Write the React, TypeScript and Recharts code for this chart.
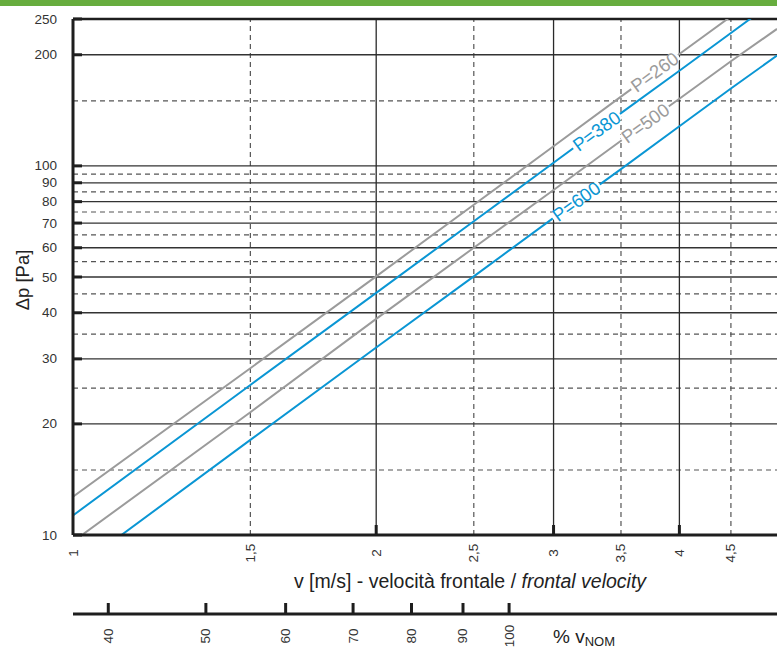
import React from 'react';
import {
  LineChart,
  Line,
  XAxis,
  YAxis,
  ReferenceLine,
  ReferenceDot,
} from 'recharts';

// velocità frontale [m/s]
const velocity = [1, 1.5, 2, 2.5, 3, 3.5, 4, 4.5, 5];

// perdita di carico [Pa] per ogni curva
const p260 = [12.7, 28.3, 50.2, 78.5, 113, 154, 201, 254, 314];
const p380 = [11.3, 25.5, 45.3, 70.8, 102, 139, 181, 229, 283];
const p500 = [9.6, 21.5, 38.5, 60, 86, 117, 152, 192, 235];
const p600 = [8.0, 18.1, 32.2, 50.2, 72.3, 98, 128, 162, 199];

const yTicks = [10, 20, 30, 40, 50, 60, 70, 80, 90, 100, 200, 250];
const yMajorGrid = [20, 30, 40, 50, 60, 70, 80, 90, 100, 200];
const yMinorGrid = [15, 25, 35, 45, 55, 65, 75, 85, 95, 150];

const xTicks = [1, 1.5, 2, 2.5, 3, 3.5, 4, 4.5];
const xMajorGrid = [2, 3, 4];
const xMinorGrid = [1.5, 2.5, 3.5, 4.5];

const nomTicks = [40, 50, 60, 70, 80, 90, 100];
const vNominal = 2.71;

const W = 777;
const H = 649;
const LEFT = 73;
const TOP = 19;
const X_AXIS_H = 79;
const NOM_AXIS_H = 35;
const X_DOMAIN = [1, 5];
const Y_DOMAIN = [10, 250];

const FONT = '"Liberation Sans", Arial, Helvetica, sans-serif';
const GRAY = '#9b9b9b';
const BLUE = '#0a96d4';

const series = [
  { key: 'p260', name: 'P=260', values: p260, color: GRAY, labelV: 3.78 },
  { key: 'p380', name: 'P=380', values: p380, color: BLUE, labelV: 3.31 },
  { key: 'p500', name: 'P=500', values: p500, color: GRAY, labelV: 3.7 },
  { key: 'p600', name: 'P=600', values: p600, color: BLUE, labelV: 3.16 },
];

const data = velocity.map((v, i) => {
  const row: Record<string, number> = { v, nom: (v / vNominal) * 100 };
  series.forEach((s) => {
    row[s.key] = s.values[i];
  });
  return row;
});

// pixel per decade, used to tilt the labels along the lines
const plotW = W - LEFT;
const plotH = H - TOP - X_AXIS_H - NOM_AXIS_H;
const pxDecX = plotW / Math.log10(X_DOMAIN[1] / X_DOMAIN[0]);
const pxDecY = plotH / Math.log10(Y_DOMAIN[1] / Y_DOMAIN[0]);

function labelPoint(values: number[], v: number) {
  let i = 0;
  while (i < velocity.length - 2 && velocity[i + 1] < v) i++;
  const lv0 = Math.log10(velocity[i]);
  const lv1 = Math.log10(velocity[i + 1]);
  const lp0 = Math.log10(values[i]);
  const lp1 = Math.log10(values[i + 1]);
  const slope = (lp1 - lp0) / (lv1 - lv0);
  const p = Math.pow(10, lp0 + slope * (Math.log10(v) - lv0));
  const angle = (Math.atan((slope * pxDecY) / pxDecX) * 180) / Math.PI;
  return { p, angle };
}

const fmt = (n: number) => String(n).replace('.', ',');

function YTick(props: any) {
  const { x, y, payload } = props;
  return (
    <g>
      <line x1={x} x2={x + 9} y1={y} y2={y} stroke="#1e1e1e" strokeWidth={3} />
      <text
        x={x - 16}
        y={y}
        textAnchor="end"
        dominantBaseline="central"
        fontSize={13.5}
        fontFamily={FONT}
        fill="#333"
      >
        {payload.value}
      </text>
    </g>
  );
}

function XTick(props: any) {
  const { x, y, payload } = props;
  const major = xMajorGrid.includes(payload.value);
  return (
    <g>
      {major && (
        <line x1={x} x2={x} y1={y - 10} y2={y} stroke="#1e1e1e" strokeWidth={3} />
      )}
      <text
        x={0}
        y={0}
        transform={`translate(${x},${y + 18}) rotate(-90)`}
        textAnchor="middle"
        dominantBaseline="central"
        fontSize={13.5}
        fontFamily={FONT}
        fill="#333"
      >
        {fmt(payload.value)}
      </text>
    </g>
  );
}

function NomTick(props: any) {
  const { x, y, payload } = props;
  return (
    <g>
      <line x1={x} x2={x} y1={y - 11} y2={y} stroke="#1e1e1e" strokeWidth={3} />
      <text
        x={0}
        y={0}
        transform={`translate(${x},${y + 22}) rotate(-90)`}
        textAnchor="middle"
        dominantBaseline="central"
        fontSize={13.5}
        fontFamily={FONT}
        fill="#333"
      >
        {payload.value}
      </text>
    </g>
  );
}

function CurveLabel({ cx, cy, text, color, angle }: any) {
  if (cx == null || cy == null) return null;
  return (
    <g transform={`translate(${cx},${cy}) rotate(${-angle})`}>
      <rect x={-29} y={-5} width={58} height={10} fill="#fff" />
      <text
        x={0}
        y={0}
        textAnchor="middle"
        dominantBaseline="central"
        fontSize={18.5}
        fontFamily={FONT}
        fill={color}
      >
        {text}
      </text>
    </g>
  );
}

export default function App() {
  return (
    <div style={{ position: 'relative', width: W, height: H, background: '#fff' }}>
      <style>{'body{margin:0}'}</style>
      <div
        style={{
          position: 'absolute',
          left: 0,
          top: 0,
          width: W,
          height: 6,
          background: '#67ad3e',
        }}
      />
      <LineChart
        width={W}
        height={H}
        data={data}
        margin={{ top: TOP, right: 0, left: 0, bottom: 0 }}
      >
        <XAxis
          xAxisId={0}
          dataKey="v"
          type="number"
          scale="log"
          domain={X_DOMAIN}
          allowDataOverflow
          ticks={xTicks}
          interval={0}
          height={X_AXIS_H}
          axisLine={{ stroke: '#1e1e1e', strokeWidth: 3 }}
          tickLine={false}
          tickSize={0}
          tickMargin={0}
          tick={<XTick />}
          label={{
            content: (p: any) => {
              const vb = p.viewBox;
              return (
                <text
                  x={vb.x + 397}
                  y={vb.y + 53}
                  textAnchor="middle"
                  fontSize={19.5}
                  fontFamily={FONT}
                  fill="#222"
                >
                  v [m/s] - velocità frontale /{' '}
                  <tspan fontStyle="italic">frontal velocity</tspan>
                </text>
              );
            },
          }}
        />
        <XAxis
          xAxisId={1}
          dataKey="nom"
          type="number"
          scale="log"
          domain={[100 / vNominal, 500 / vNominal]}
          allowDataOverflow
          ticks={nomTicks}
          interval={0}
          height={NOM_AXIS_H}
          axisLine={{ stroke: '#1e1e1e', strokeWidth: 3 }}
          tickLine={false}
          tickSize={0}
          tickMargin={0}
          tick={<NomTick />}
          label={{
            content: (p: any) => {
              const vb = p.viewBox;
              return (
                <text x={vb.x + 480} y={vb.y + 29} fontSize={19} fontFamily={FONT} fill="#222">
                  % v
                  <tspan fontSize={13} dy={3}>
                    NOM
                  </tspan>
                </text>
              );
            },
          }}
        />
        <YAxis
          type="number"
          scale="log"
          domain={Y_DOMAIN}
          allowDataOverflow
          ticks={yTicks}
          interval={0}
          width={LEFT}
          axisLine={{ stroke: '#1e1e1e', strokeWidth: 3 }}
          tickLine={false}
          tickSize={0}
          tickMargin={0}
          tick={<YTick />}
          label={{
            content: (p: any) => {
              const vb = p.viewBox;
              const cx = vb.x + 22;
              const cy = 280;
              return (
                <text
                  x={0}
                  y={0}
                  transform={`translate(${cx},${cy}) rotate(-90)`}
                  textAnchor="middle"
                  dominantBaseline="central"
                  fontSize={18.5}
                  fontFamily={FONT}
                  fill="#222"
                >
                  Δp [Pa]
                </text>
              );
            },
          }}
        />

        {yMinorGrid.map((y) => (
          <ReferenceLine
            key={`ym${y}`}
            xAxisId={0}
            y={y}
            stroke="#555"
            strokeWidth={1.2}
            strokeDasharray="5 4"
          />
        ))}
        {xMinorGrid.map((x) => (
          <ReferenceLine
            key={`xm${x}`}
            xAxisId={0}
            x={x}
            stroke="#555"
            strokeWidth={1.2}
            strokeDasharray="5 4"
          />
        ))}
        {yMajorGrid.map((y) => (
          <ReferenceLine key={`yM${y}`} xAxisId={0} y={y} stroke="#333" strokeWidth={1.3} />
        ))}
        {xMajorGrid.map((x) => (
          <ReferenceLine key={`xM${x}`} xAxisId={0} x={x} stroke="#2a2a2a" strokeWidth={1.3} />
        ))}
        <ReferenceLine xAxisId={0} y={Y_DOMAIN[1]} stroke="#1e1e1e" strokeWidth={2.5} />

        {/* invisible series that keeps the % v_NOM axis alive */}
        <Line
          xAxisId={1}
          type="linear"
          dataKey="p260"
          stroke="none"
          dot={false}
          activeDot={false}
          legendType="none"
          isAnimationActive={false}
        />

        {series.map((s) => (
          <Line
            key={s.key}
            xAxisId={0}
            type="linear"
            dataKey={s.key}
            name={s.name}
            stroke={s.color}
            strokeWidth={2}
            dot={false}
            activeDot={false}
            isAnimationActive={false}
          />
        ))}

        {series.map((s) => {
          const { p, angle } = labelPoint(s.values, s.labelV);
          return (
            <ReferenceDot
              key={`lbl${s.key}`}
              xAxisId={0}
              x={s.labelV}
              y={p}
              r={0}
              shape={(props: any) => (
                <CurveLabel cx={props.cx} cy={props.cy} text={s.name} color={s.color} angle={angle} />
              )}
            />
          );
        })}
      </LineChart>
    </div>
  );
}
